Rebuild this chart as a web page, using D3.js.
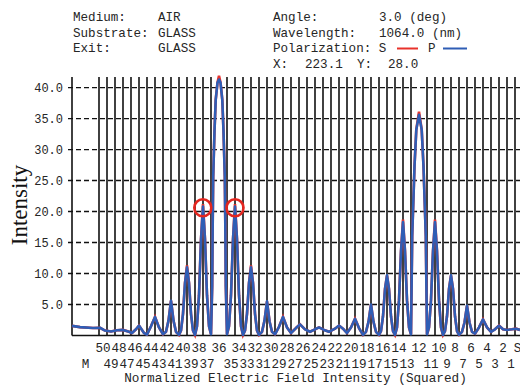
<!DOCTYPE html>
<html>
<head>
<meta charset="utf-8">
<script src="https://cdn.jsdelivr.net/npm/d3@7"></script>
<style>
  body { margin: 0; background: #fff; }
  svg { display: block; }
  text { font-family: 'Liberation Mono', 'Courier New', monospace; fill: #262626; }
</style>
</head>
<body>
<div class="chart"></div>
<script>
// layers from incident medium (M) to substrate (S)
const layerNames = ['M', '50', '49', '48', '47', '46', '45', '44', '43', '42', '41', '40', '39', '38', '37',
  '36', '35', '34', '33', '32', '31', '30', '29', '28', '27', '26', '25', '24', '23', '22', '21', '20',
  '19', '18', '17', '16', '15', '14', '13', '12', '11', '10', '9', '8', '7', '6', '5', '4', '3', '2', '1', 'S'];

// drawn thickness of each layer (depth units)
const layerThick = [27,
  8, 8, 8, 8, 8, 8, 8, 8, 8, 8, 8, 8, 8, 8,
  16,
  8, 8, 8, 8, 8, 8, 8, 8, 8, 8, 8, 8, 8, 8, 8, 8, 8, 8, 8, 8, 8, 8, 8,
  16,
  8, 8, 8, 8, 8, 8, 8, 8, 8, 8, 8,
  5];

const yTicks = [5, 10, 15, 20, 25, 30, 35, 40];

// P polarization, [depth, intensity]
const fieldP = [
  [0, 1.55], [8, 1.35], [21, 1.2], [28, 1.25], [33, 0.8], [39, 0.65], [45, 0.85], [51, 0.9], [57, 0.6],
  [60, 0.4], [64, 1.0], [67, 1.6], [72, 0.4], [75, 0.15], [79, 1.5], [83, 3.0], [87, 1.3], [91, 0.2],
  [94, 0.6], [96.5, 2.4], [99, 5.6], [101.5, 2.4], [104, 0.6], [107, 0.1],
  [109, 0.8], [111, 3.5], [113, 8.5], [115, 11], [117, 8.5], [119, 3.5], [121, 0.8], [123, 0.1],
  [125, 1.5], [127, 6.5], [129, 15.5], [131, 20.8], [133, 15.5], [135, 6.5], [137, 1.5], [139, 0.2],
  [140.2, 8], [140.7, 18], [141.2, 25.6], [142.5, 33], [143.7, 38], [145.5, 40.8], [147, 41.3],
  [148.5, 40.8], [150.3, 38], [151.5, 33], [152.8, 25.6], [153.3, 18], [153.8, 8], [155, 0.2],
  [157, 1.5], [159, 6.5], [161, 15.5], [163, 20.8], [165, 15.5], [167, 6.5], [169, 1.5], [171, 0.1],
  [173, 0.8], [175, 3.5], [177, 8.5], [179, 11], [181, 8.5], [183, 3.5], [185, 0.8], [187, 0.1],
  [190, 0.6], [192.5, 2.4], [195, 5.5], [197.5, 2.3], [200, 0.6], [203, 0.2],
  [207, 1.4], [211, 3.0], [215, 1.3], [219, 0.4],
  [224, 1.2], [228, 1.8], [233, 1.0], [238, 0.6],
  [243, 1.0], [247, 1.3], [252, 0.9], [257, 0.6],
  [263, 1.1], [267, 1.6], [271, 1.1], [275, 0.4],
  [279, 1.3], [283, 2.7], [287, 1.2], [291, 0.1],
  [294, 0.6], [296.5, 2.2], [299, 5.0], [301.5, 2.2], [304, 0.6], [307, 0.1],
  [309, 0.7], [311, 3.1], [313, 7.5], [315, 9.7], [317, 7.5], [319, 3.1], [321, 0.7], [323, 0.1],
  [325, 1.3], [327, 5.7], [329, 13.6], [331, 18.3], [333, 13.6], [335, 5.7], [337, 1.3], [339, 0.2],
  [339.6, 8], [340.2, 16], [341.5, 22.4], [342.5, 27.3], [344.3, 33.2], [347, 35.6], [349.7, 33.2],
  [351.5, 27.3], [352.5, 22.4], [353.8, 16], [354.4, 8], [355, 0.2],
  [357, 1.3], [359, 5.7], [361, 13.6], [363, 18.3], [365, 13.6], [367, 5.7], [369, 1.3], [371, 0.1],
  [373, 0.7], [375, 3.1], [377, 7.5], [379, 9.7], [381, 7.5], [383, 3.1], [385, 0.7], [387, 0.1],
  [390, 0.6], [392.5, 2.1], [395, 4.8], [397.5, 2.1], [400, 0.6], [403, 0.3],
  [407, 1.3], [411, 2.6], [415, 1.3], [419, 0.6],
  [423, 1.0], [427, 1.6], [431, 1.0], [435, 0.9], [440, 1.0], [444, 1.1], [448, 0.9]
];

// S polarization sits under P; only the tips differ
const sTips = [[147, 41.9], [347, 36.1], [131, 21.2], [163, 21.2], [115, 11.3], [179, 11.3], [331, 18.7], [363, 18.7]];

// circled points
const marked = [[130.8, 20.6], [163, 20.6]];

const headerLeft = [['Medium:', 'AIR'], ['Substrate:', 'GLASS'], ['Exit:', 'GLASS']];
const headerRight = [['Angle:', '3.0 (deg)'], ['Wavelength:', '1064.0 (nm)']];
const cursor = { x: '223.1', y: '28.0' };

const W = 520, H = 385;
const svg = d3.select('.chart')
  .append('svg')
    .attr('width', W)
    .attr('height', H);

const x = d3.scaleLinear().domain([0, 448]).range([72, 520]);
const y = d3.scaleLinear().domain([0, 41.7]).range([335.5, 77]);

// header block
const hdr = svg.append('g').style('font-size', '12.6px');
headerLeft.forEach((d, i) => {
  hdr.append('text').attr('x', 73).attr('y', 21 + i * 15.6).text(d[0]);
  hdr.append('text').attr('x', 158).attr('y', 21 + i * 15.6).text(d[1]);
});
headerRight.forEach((d, i) => {
  hdr.append('text').attr('x', 273).attr('y', 21 + i * 15.6).text(d[0]);
  hdr.append('text').attr('x', 379).attr('y', 21 + i * 15.6).text(d[1]);
});
hdr.append('text').attr('x', 273).attr('y', 52.2).text('Polarization: S');
hdr.append('line')
  .attr('x1', 397).attr('x2', 418).attr('y1', 48.5).attr('y2', 48.5)
  .attr('stroke', '#e8322b').attr('stroke-width', 2);
hdr.append('text').attr('x', 428).attr('y', 52.2).text('P');
hdr.append('line')
  .attr('x1', 443).attr('x2', 467).attr('y1', 48.5).attr('y2', 48.5)
  .attr('stroke', '#2f5db5').attr('stroke-width', 2);
hdr.append('text').attr('x', 273).attr('y', 67.8).text('X:');
hdr.append('text').attr('x', 305).attr('y', 67.8).text(cursor.x);
hdr.append('text').attr('x', 357).attr('y', 67.8).text('Y:');
hdr.append('text').attr('x', 388).attr('y', 67.8).text(cursor.y);

// horizontal dashed grid + y labels
svg.append('g')
  .selectAll('line')
  .data(yTicks)
  .enter()
  .append('line')
    .attr('x1', x(0) - 4)
    .attr('x2', x(448))
    .attr('y1', d => y(d))
    .attr('y2', d => y(d))
    .attr('stroke', '#111')
    .attr('stroke-width', 1.3)
    .attr('stroke-dasharray', '5,3');

svg.append('g')
  .selectAll('text')
  .data(yTicks)
  .enter()
  .append('text')
    .attr('x', 63)
    .attr('y', d => y(d) + 4)
    .attr('text-anchor', 'end')
    .style('font-size', '12px')
    .text(d => d.toFixed(1));

// layer boundaries
const edges = d3.cumsum(layerThick);
const bounds = Array.from(edges).slice(0, -1);
const starts = [0].concat(bounds);

svg.append('g')
  .selectAll('line')
  .data(bounds)
  .enter()
  .append('line')
    .attr('x1', d => x(d))
    .attr('x2', d => x(d))
    .attr('y1', y(41.7))
    .attr('y2', y(0))
    .attr('stroke', '#111')
    .attr('stroke-width', 1.6);

// axes
svg.append('line')
  .attr('x1', x(0)).attr('x2', x(0))
  .attr('y1', y(41.7)).attr('y2', y(0))
  .attr('stroke', '#111').attr('stroke-width', 1.6);
svg.append('line')
  .attr('x1', x(0)).attr('x2', x(448))
  .attr('y1', y(0)).attr('y2', y(0))
  .attr('stroke', '#111').attr('stroke-width', 1.6);

// layer labels, alternating rows
svg.append('g')
  .selectAll('text')
  .data(layerNames)
  .enter()
  .append('text')
    .attr('x', (d, i) => x(starts[i] + layerThick[i] / 2))
    .attr('y', (d, i) => i % 2 === 0 ? 367.6 : 351.6)
    .attr('text-anchor', 'middle')
    .style('font-size', '12.6px')
    .text(d => d);

svg.append('text')
  .attr('x', 295.5)
  .attr('y', 382)
  .attr('text-anchor', 'middle')
  .style('font-size', '12.7px')
  .text('Normalized Electric Field Intensity (Squared)');

svg.append('text')
  .attr('transform', 'translate(27, 205) rotate(-90)')
  .attr('text-anchor', 'middle')
  .style('font-family', "'Liberation Serif', 'Times New Roman', serif")
  .style('font-size', '23px')
  .style('fill', '#111')
  .text('Intensity');

// field curves
const line = d3.line()
  .x(d => x(d[0]))
  .y(d => y(d[1]));

const tipMap = new Map(sTips.map(d => [d[0], d[1]]));
const fieldS = fieldP.map(d => [d[0], tipMap.has(d[0]) ? tipMap.get(d[0]) : d[1]]);

svg.append('path')
  .attr('d', line(fieldS))
  .attr('fill', 'none')
  .attr('stroke', '#e8322b')
  .attr('stroke-width', 2.6);

svg.append('path')
  .attr('d', line(fieldP))
  .attr('fill', 'none')
  .attr('stroke', '#2f5db5')
  .attr('stroke-width', 2.6)
  .attr('stroke-linejoin', 'round');

svg.append('g')
  .selectAll('circle')
  .data(marked)
  .enter()
  .append('circle')
    .attr('cx', d => x(d[0]))
    .attr('cy', d => y(d[1]))
    .attr('r', 8.5)
    .attr('fill', 'none')
    .attr('stroke', '#e3261f')
    .attr('stroke-width', 2.6);
</script>
</body>
</html>
